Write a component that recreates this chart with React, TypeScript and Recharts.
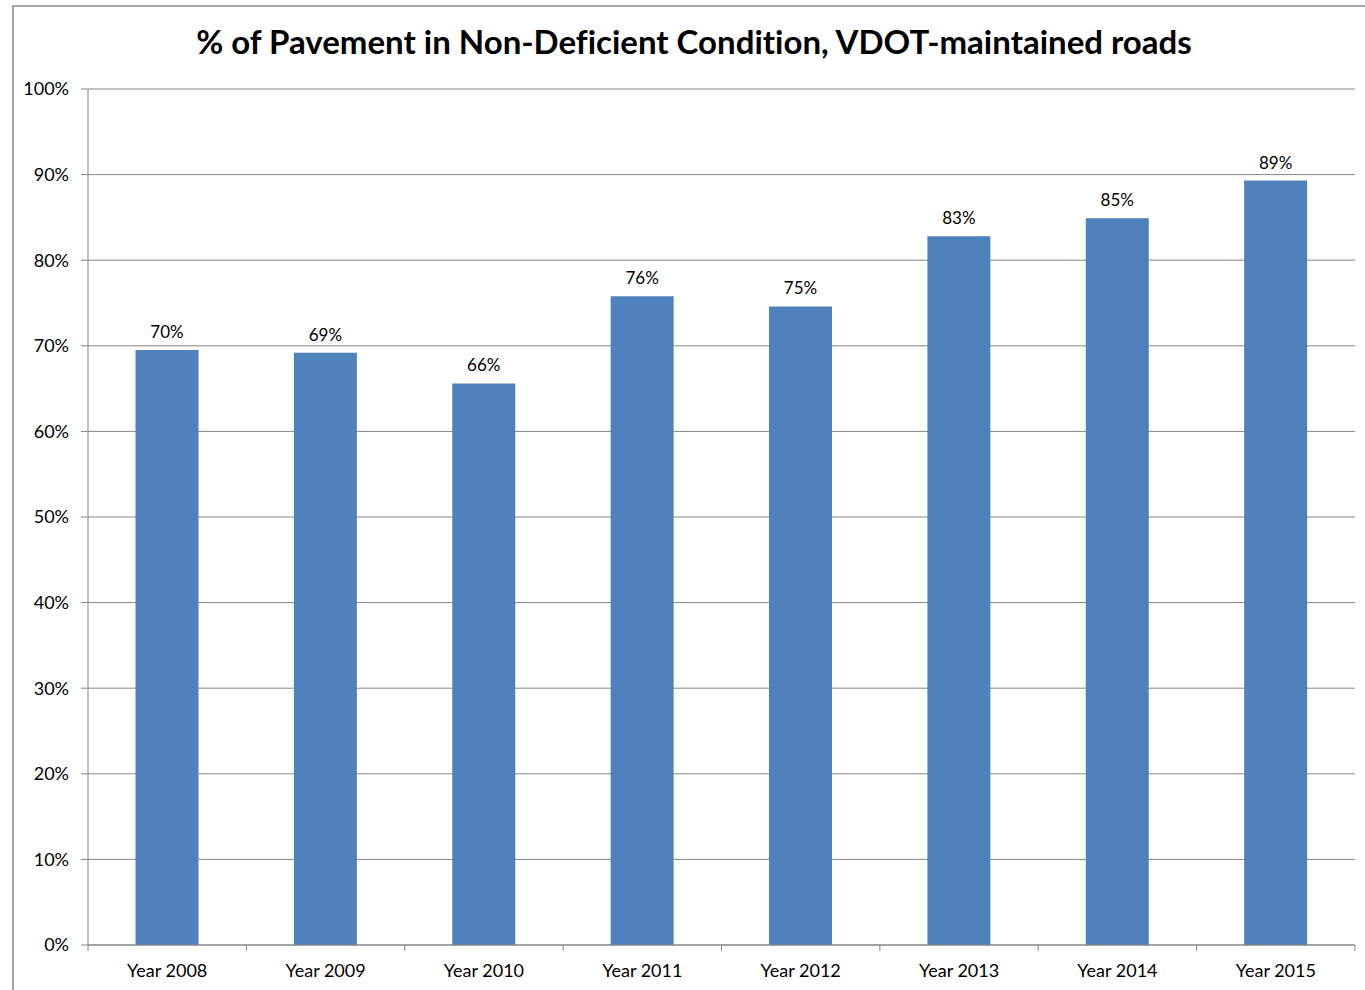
import React from 'react';
import { BarChart, Bar, XAxis, YAxis, CartesianGrid, LabelList } from 'recharts';

const years = ['Year 2008', 'Year 2009', 'Year 2010', 'Year 2011', 'Year 2012', 'Year 2013', 'Year 2014', 'Year 2015'];
const nonDeficient = [69.5, 69.2, 65.6, 75.8, 74.6, 82.8, 84.9, 89.3];
const yTicks = [0, 10, 20, 30, 40, 50, 60, 70, 80, 90, 100];

const data = years.map((year, i) => ({ year, value: nonDeficient[i] }));

const W = 1365;
const H = 990;
const PLOT_LEFT = 88;
const PLOT_RIGHT = 1355;
const band = (PLOT_RIGHT - PLOT_LEFT) / years.length;
const axisColor = '#868686';
const font = 'Lato, "Open Sans", sans-serif';

// ticks sit on category boundaries, like Excel does
const YearTick = (props: any) => {
  const { x, y, payload, index } = props;
  const left = x - band / 2;
  return (
    <g>
      <line x1={left} y1={y - 8} x2={left} y2={y - 2} stroke={axisColor} />
      {index === years.length - 1 && (
        <line x1={x + band / 2} y1={y - 8} x2={x + band / 2} y2={y - 2} stroke={axisColor} />
      )}
      <text x={x} y={y + 24} textAnchor="middle" fill="#000" fontSize={18} fontFamily={font}>
        {payload.value}
      </text>
    </g>
  );
};

export default function App() {
  return (
    <div style={{ position: 'relative', width: W, height: H, overflow: 'hidden', background: '#fff' }}>
      <style>{'body{margin:0}'}</style>
      <div
        style={{
          position: 'absolute',
          left: 12,
          top: 5,
          width: 1400,
          height: 1100,
          border: '2px solid #a6a6a6',
          boxSizing: 'border-box',
        }}
      />
      <div
        style={{
          position: 'absolute',
          left: 0,
          width: 1388,
          top: 21,
          textAlign: 'center',
          fontFamily: font,
          fontWeight: 700,
          fontSize: 33,
          fontVariantLigatures: 'none',
          color: '#000',
        }}
      >
        % of Pavement in Non-Deficient Condition, VDOT-maintained roads
      </div>
      <div style={{ position: 'absolute', left: 0, top: 0 }}>
        <BarChart
          width={W}
          height={H}
          data={data}
          margin={{ top: 89, right: W - PLOT_RIGHT, bottom: 0, left: 8 }}
          barCategoryGap="30%"
        >
          <CartesianGrid vertical={false} stroke={axisColor} strokeWidth={1} />
          <XAxis
            dataKey="year"
            height={45}
            stroke={axisColor}
            tickLine={false}
            tick={<YearTick />}
            interval={0}
          />
          <YAxis
            width={80}
            domain={[0, 100]}
            ticks={yTicks}
            interval={0}
            tickFormatter={(v: number) => `${v}%`}
            stroke={axisColor}
            tickSize={7}
            tickMargin={12}
            tick={{ fill: '#000', fontSize: 18, fontFamily: font }}
          />
          <Bar dataKey="value" fill="#4F81BD" isAnimationActive={false}>
            <LabelList
              dataKey="value"
              position="top"
              offset={12}
              formatter={(v: any) => `${Math.round(Number(v))}%`}
              style={{ fill: '#000', fontSize: 17, fontFamily: font }}
            />
          </Bar>
        </BarChart>
      </div>
    </div>
  );
}
